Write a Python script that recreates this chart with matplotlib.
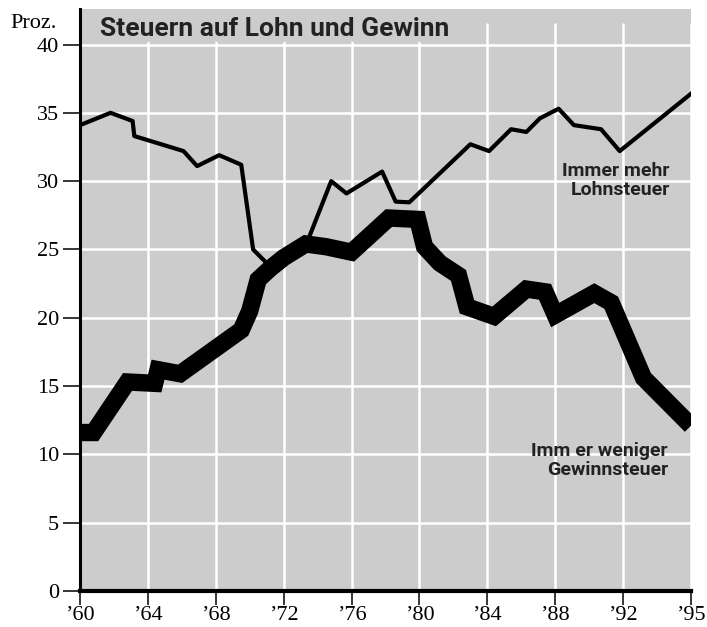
import matplotlib
matplotlib.use("Agg")
import matplotlib.pyplot as plt
from matplotlib.patches import Rectangle

# Lohnsteuer (thin line), share in percent
lohn_years = [1960.0, 1961.8, 1963.1, 1963.2, 1966.1, 1966.9, 1968.2, 1969.5,
              1970.2, 1971.0, 1973.5, 1974.8, 1975.7, 1977.8, 1978.6, 1979.4,
              1983.0, 1984.1, 1985.4, 1986.3, 1987.1, 1988.2, 1989.1, 1990.7,
              1991.8, 1996.0]
lohn_values = [34.1, 35.0, 34.4, 33.3, 32.2, 31.1, 31.9, 31.2,
               25.0, 24.0, 25.9, 30.0, 29.1, 30.7, 28.5, 28.45,
               32.7, 32.2, 33.8, 33.6, 34.6, 35.3, 34.1, 33.8,
               32.2, 36.4]

# Gewinnsteuer (thick line), share in percent
gewinn_years = [1960.0, 1960.8, 1962.8, 1964.4, 1964.6, 1965.9, 1969.5, 1970.0,
                1970.5, 1971.2, 1972.0, 1973.3, 1974.5, 1976.0, 1978.2, 1979.9,
                1980.3, 1981.2, 1982.3, 1982.8, 1984.4, 1986.3, 1987.4, 1988.0,
                1990.3, 1991.3, 1993.2, 1996.0]
gewinn_values = [11.6, 11.6, 15.3, 15.2, 16.2, 15.9, 19.1, 20.5,
                 22.8, 23.6, 24.4, 25.4, 25.2, 24.8, 27.3, 27.2,
                 25.2, 24.0, 23.1, 20.8, 20.1, 22.1, 21.9, 20.2,
                 21.8, 21.1, 15.6, 12.1]

tick_pos = [1960, 1964, 1968, 1972, 1976, 1980, 1984, 1988, 1992, 1996]
tick_labels = ["’60", "’64", "’68", "’72", "’76", "’80", "’84", "’88", "’92", "’95"]
y_ticks = [0, 5, 10, 15, 20, 25, 30, 35, 40]

narrow = ["Liberation Sans Narrow", "Roboto", "DejaVu Sans"]
serif = ["Liberation Serif", "DejaVu Serif"]
txt_col = "#222222"

fig = plt.figure(figsize=(7.07, 6.27), dpi=100)
ax = fig.add_axes([80 / 707, 1 - 591 / 627, 611 / 707, 582 / 627])
ax.set_facecolor("#cccccc")
ax.set_xlim(1960, 1996)
ax.set_ylim(0, 42.6)

# white grid
ax.hlines(y_ticks[1:], 1960, 1996, color="white", lw=1.8, zorder=1)
ax.vlines(tick_pos, 0, 41.6, color="white", lw=1.8, zorder=1)
# panel behind title hides grid stubs
ax.add_patch(Rectangle((1960.3, 40.2), 21.7, 2.5, facecolor="#cccccc",
                       edgecolor="none", zorder=2))

ax.plot(gewinn_years, gewinn_values, color="black", lw=12.5,
        solid_joinstyle="miter", solid_capstyle="butt", zorder=3)
ax.plot(lohn_years, lohn_values, color="black", lw=3,
        solid_joinstyle="round", zorder=4)

for s in ["top", "right"]:
    ax.spines[s].set_visible(False)
ax.spines["left"].set_linewidth(2.2)
ax.spines["bottom"].set_linewidth(3)

ax.set_yticks(y_ticks)
ax.set_yticklabels([str(v) for v in y_ticks], family=serif, fontsize=16)
ax.set_xticks(tick_pos)
ax.set_xticklabels(tick_labels, family=serif, fontsize=16)
ax.tick_params(axis="y", direction="out", length=12, width=1.1, pad=3)
ax.tick_params(axis="x", direction="out", length=10, width=1.1, pad=1)

ax.text(1961.2, 40.6, "Steuern auf Lohn und Gewinn", family=narrow,
        fontweight="bold", fontsize=19, color=txt_col, ha="left",
        va="baseline", zorder=5)
fig.text(57 / 707, 1 - 28 / 627, "Proz.", family=serif, fontsize=16,
         ha="right", va="baseline")

ax.text(1994.75, 31.4, "Immer mehr\nLohnsteuer", family=narrow,
        fontweight="bold", fontsize=14, color=txt_col, ha="right", va="top",
        multialignment="right", linespacing=1.1, zorder=5)
ax.text(1994.65, 10.9, "Imm er weniger\nGewinnsteuer", family=narrow,
        fontweight="bold", fontsize=14, color=txt_col, ha="right", va="top",
        multialignment="right", linespacing=1.1, zorder=5)

fig.savefig("out.png", dpi=100)
